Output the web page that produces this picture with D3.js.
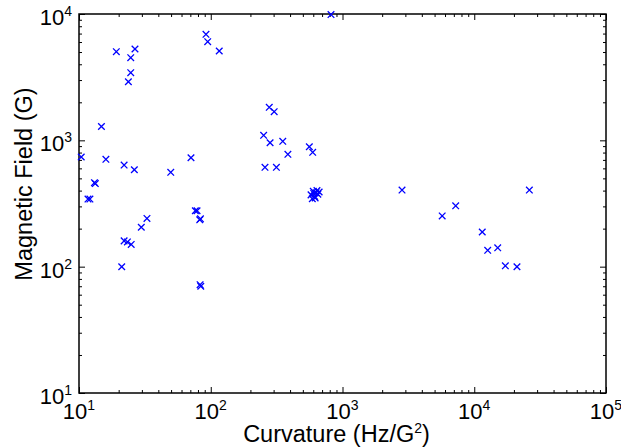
<!DOCTYPE html>
<html lang="en">
<head>
<meta charset="UTF-8">
<title>Magnetic field vs curvature</title>
<style>
	body { margin: 0; background: #fff; }
	svg { display: block; font-family: "Liberation Sans", Arial, sans-serif; }
</style>
</head>
<body>
<script src="https://cdn.jsdelivr.net/npm/d3@7/dist/d3.min.js"></script>
<script>
// curvature (Hz/G^2) and magnetic field (G) for each point
var curvature = [10.4, 11.7, 12.1, 13.1, 13.3, 14.8, 16.0, 22.0, 26.3, 49.7, 70.8,
	32.8, 29.7, 22.0, 23.3, 24.9, 21.1, 76.4, 78.7, 82.5, 83.5, 83.0, 84.0,
	252, 258, 19.2, 26.6, 24.7, 24.7, 23.7, 92.0, 94.8, 116,
	278, 303, 282, 352, 385, 560, 594, 315,
	577, 600, 615, 630, 650, 665, 590, 620, 640, 605, 818,
	2830, 26200, 7230, 5710, 11500, 12650, 15070, 17220, 21100];
var field = [738, 343, 343, 462, 455, 1286, 707, 637, 585, 558, 728,
	241, 205, 160, 157, 150, 99.8, 277, 277, 235, 239, 72, 70,
	1095, 611, 5030, 5284, 4508, 3430, 2910, 6905, 6035, 5093,
	1825, 1685, 957, 982, 775, 890, 804, 611,
	370, 395, 360, 385, 375, 390, 345, 350, 400, 380, 9900,
	404, 404, 303, 252, 188, 134.6, 141, 101.6, 99.8];

var xMajor = [1e1, 1e2, 1e3, 1e4, 1e5];
var yMajor = [1e1, 1e2, 1e3, 1e4];
var xTickExp = ['1', '2', '3', '4', '5'];
var yTickExp = ['1', '2', '3', '4'];

var W = 621, H = 448;
var margin = {left: 79, top: 14, right: 15, bottom: 55};
var pw = W - margin.left - margin.right;
var ph = H - margin.top - margin.bottom;

var x = d3.scaleLog().domain([1e1, 1e5]).range([0, pw]);
var y = d3.scaleLog().domain([1e1, 1e4]).range([ph, 0]);

function minors(majors) {
	var out = [];
	majors.slice(0, -1).forEach(function (m) {
		for (var k = 2; k <= 9; k++) out.push(m * k);
	});
	return out;
}

var svg = d3.select('body').append('svg')
	.attr('width', W)
	.attr('height', H);

var g = svg.append('g')
	.attr('transform', 'translate(' + margin.left + ',' + margin.top + ')');

// ticks on all four sides, pointing inward
function tickAxis(axisFn, scale, values, size, tr) {
	var a = g.append('g')
		.attr('transform', tr)
		.call(axisFn(scale).tickValues(values).tickSize(size).tickFormat(''));
	a.select('.domain').remove();
	a.selectAll('line').attr('stroke', '#000').attr('stroke-width', 1);
}
tickAxis(d3.axisBottom, x, xMajor, -6, 'translate(0,' + ph + ')');
tickAxis(d3.axisBottom, x, minors(xMajor), -3, 'translate(0,' + ph + ')');
tickAxis(d3.axisTop, x, xMajor, -6, 'translate(0,0)');
tickAxis(d3.axisTop, x, minors(xMajor), -3, 'translate(0,0)');
tickAxis(d3.axisLeft, y, yMajor, -6, 'translate(0,0)');
tickAxis(d3.axisLeft, y, minors(yMajor), -3, 'translate(0,0)');
tickAxis(d3.axisRight, y, yMajor, -6, 'translate(' + pw + ',0)');
tickAxis(d3.axisRight, y, minors(yMajor), -3, 'translate(' + pw + ',0)');

g.append('rect')
	.attr('x', 0).attr('y', 0)
	.attr('width', pw).attr('height', ph)
	.attr('fill', 'none')
	.attr('stroke', '#000')
	.attr('stroke-width', 1.5);

// tick labels 10^n
var xl = g.selectAll('.xlab')
	.data(xMajor)
	.enter()
	.append('text')
	.attr('class', 'xlab')
	.attr('x', function (d) { return x(d); })
	.attr('y', ph + 25.5)
	.attr('text-anchor', 'middle')
	.attr('font-size', '22px');
xl.append('tspan').text('10');
xl.append('tspan')
	.attr('dy', -9)
	.attr('font-size', '14px')
	.text(function (d, i) { return xTickExp[i]; });

var yl = g.selectAll('.ylab')
	.data(yMajor)
	.enter()
	.append('text')
	.attr('class', 'ylab')
	.attr('x', -7)
	.attr('y', function (d) { return y(d) + 11; })
	.attr('text-anchor', 'end')
	.attr('font-size', '22px');
yl.append('tspan').text('10');
yl.append('tspan')
	.attr('dy', -9)
	.attr('font-size', '14px')
	.text(function (d, i) { return yTickExp[i]; });

// axis titles
var xt = svg.append('text')
	.attr('x', margin.left + pw / 2 - 6)
	.attr('y', 442)
	.attr('text-anchor', 'middle')
	.attr('font-size', '23.5px');
xt.append('tspan').text('Curvature (Hz/G');
xt.append('tspan').attr('dy', -9).attr('font-size', '14px').text('2');
xt.append('tspan').attr('dy', 9).text(')');

svg.append('text')
	.attr('transform', 'translate(32,' + 184 + ') rotate(-90)')
	.attr('text-anchor', 'middle')
	.attr('font-size', '23.5px')
	.text('Magnetic Field (G)');

// x markers
var pts = d3.zip(curvature, field);
var s = 3.3;
g.selectAll('.pt')
	.data(pts)
	.enter()
	.append('path')
	.attr('class', 'pt')
	.attr('d', function (d) {
		var cx = x(d[0]), cy = y(d[1]);
		return 'M' + (cx - s) + ',' + (cy - s) + 'L' + (cx + s) + ',' + (cy + s) +
			'M' + (cx - s) + ',' + (cy + s) + 'L' + (cx + s) + ',' + (cy - s);
	})
	.attr('stroke', '#0000ff')
	.attr('stroke-width', 1.3)
	.attr('fill', 'none');
</script>
</body>
</html>
